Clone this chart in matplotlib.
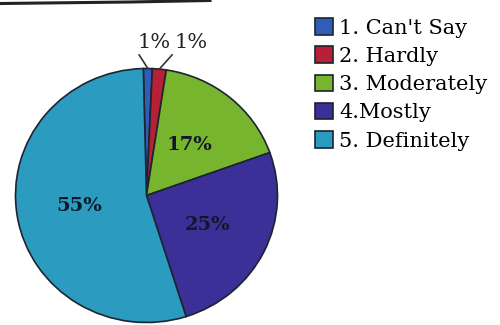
import matplotlib
matplotlib.use("Agg")
import matplotlib.pyplot as plt
from matplotlib.lines import Line2D
import numpy as np

categories = ["1. Can't Say", "2. Hardly", "3. Moderately", "4.Mostly", "5. Definitely"]
values = [1.1, 1.7, 17.1, 25.6, 54.5]
pct_labels = ["1%", "1%", "17%", "25%", "55%"]
colors = ["#2f5db8", "#b82035", "#78b52e", "#3b2f98", "#2b9bc0"]

W, H = 500, 325
fig = plt.figure(figsize=(W / 100, H / 100), dpi=100)
fig.patch.set_facecolor("white")

cx, cy, rx, ry = 146.5, 195.5, 131, 127
ax = fig.add_axes([(cx - rx) / W, (H - cy - ry) / H, 2 * rx / W, 2 * ry / H])
wedges, _ = ax.pie(values, colors=colors, startangle=91.4, counterclock=False,
                   wedgeprops=dict(edgecolor="#1c2430", linewidth=1.2))
ax.set_xlim(-1, 1)
ax.set_ylim(-1, 1)
ax.set_aspect("auto")

serif = ["DejaVu Serif"]
# inner labels
for w, lab in zip(wedges, pct_labels):
    if w.theta2 - w.theta1 < 20:
        continue
    mid = np.deg2rad((w.theta1 + w.theta2) / 2)
    d = 0.52
    ax.text(d * np.cos(mid), d * np.sin(mid), lab, ha="center", va="center",
            fontsize=14, fontweight="bold", color="#101828", family=serif)

# outer labels with leaders for the small wedges
text_pos = [(-0.07, 1.13), (0.215, 1.13)]
small = [i for i, w in enumerate(wedges) if w.theta2 - w.theta1 < 20]
for i, (tx, ty) in zip(small, text_pos):
    w = wedges[i]
    mid = np.deg2rad((w.theta1 + w.theta2) / 2)
    ax.annotate(pct_labels[i], xy=(np.cos(mid), np.sin(mid)), xytext=(tx, ty),
                ha="left", va="bottom", fontsize=15, color="#222222", family=serif,
                annotation_clip=False,
                arrowprops=dict(arrowstyle="-", color="#333333", lw=1.2,
                                relpos=(0, 0), shrinkA=0, shrinkB=0))

fig.legend(wedges, categories, loc="upper left",
           bbox_to_anchor=(315 / W, 1 - 18 / H), frameon=False,
           prop=dict(family="DejaVu Serif", size=15),
           handlelength=0.85, handleheight=0.85, handletextpad=0.3,
           labelspacing=0.42, borderpad=0, borderaxespad=0)

# scan artifact line at the top
fig.add_artist(Line2D([0, 130 / W, 210 / W], [1 - 3.5 / H, 1 - 2 / H, 1 - 0.5 / H],
                      transform=fig.transFigure, color="#222222", lw=2.2))

fig.savefig("out.png", dpi=100)
